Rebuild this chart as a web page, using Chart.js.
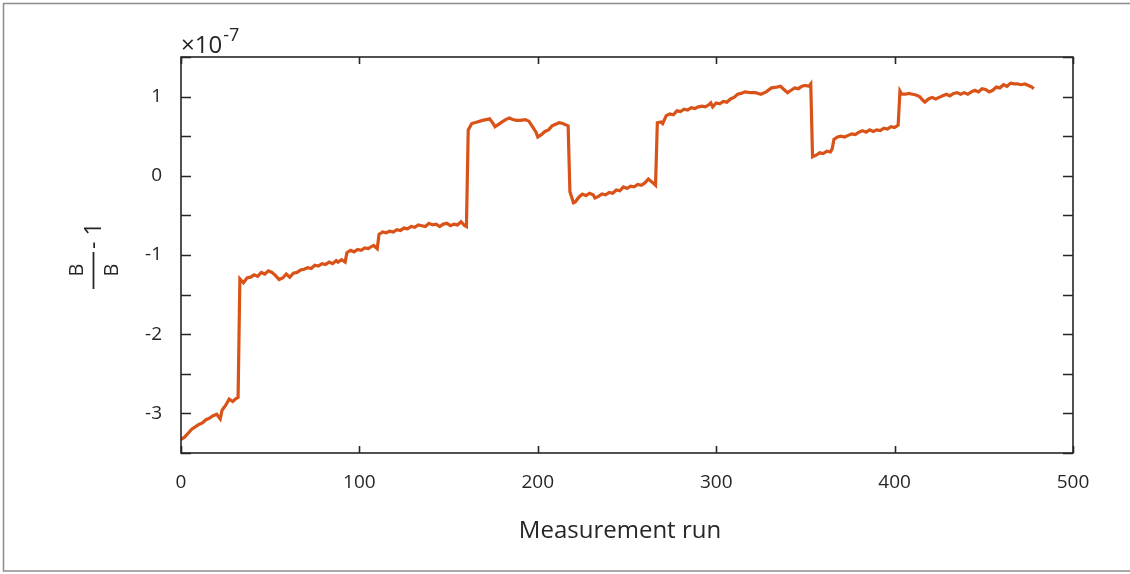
<!DOCTYPE html>
<html>
<head>
<meta charset="utf-8">
<script src="https://cdn.jsdelivr.net/npm/chart.js@4.4.1/dist/chart.umd.min.js"></script>
<style>
  html, body { margin: 0; padding: 0; background: #fff; }
  #wrap { width: 1130px; height: 574px; position: relative; }
</style>
</head>
<body>
<div id="wrap"><canvas id="c" width="1130" height="574"></canvas></div>
<script>
// measurement run index
const runs = [
  0, 2, 4, 6, 8, 10, 12, 14, 16, 18, 20, 22, 23, 25, 27, 29, 31, 32,
  33, 35, 37, 39, 41, 43, 45, 47, 49, 51, 53, 55, 57, 59, 61, 63, 65, 67, 69, 71, 73, 75, 77, 79, 81, 83, 85, 87, 88, 90, 92,
  93, 95, 97, 99, 101, 103, 105, 107, 108, 110,
  111, 113, 115, 117, 119, 121, 123, 125, 127, 129, 131, 133, 135, 137, 139, 141, 143, 145, 147, 149, 151, 153, 155, 157, 159, 160,
  161, 163, 166, 169, 171, 173, 175, 176, 178, 180, 182, 184, 186, 188, 190, 193, 195, 197, 199, 200, 202, 204, 206, 208, 210, 212, 214, 216, 217,
  218, 220, 221, 223, 225, 227, 229, 231, 232, 234, 236, 238, 240, 242, 244, 246, 248, 250, 252, 254, 256, 258, 260, 262, 264, 266,
  267, 269, 270, 272, 274, 276, 278, 280, 282, 284, 286, 288, 290, 292, 294, 296, 297, 298, 300, 302, 304, 306, 308, 310, 312, 314, 316, 319, 322, 325, 328, 331, 334, 336, 338, 340, 342, 344, 346, 348, 350, 352, 353,
  354, 356, 358, 360, 362, 364, 365, 366, 368, 370, 372, 374, 376, 378, 380, 382, 384, 386, 388, 390, 392, 394, 396, 398, 400, 402,
  403, 404, 406, 408, 410, 412, 414, 416, 417, 419, 421, 423, 425, 427, 429, 431, 433, 435, 437, 439, 441, 443, 445, 447, 449, 451, 453, 455, 457, 459, 461, 463, 465, 467, 469, 471, 473, 475, 477, 478
];

// B/B0 - 1, in units of 1e-7
const deviation = [
  -3.33, -3.30, -3.25, -3.20, -3.17, -3.14, -3.12, -3.08, -3.06, -3.03, -3.01, -3.07, -2.96, -2.90, -2.82, -2.85, -2.81, -2.80,
  -1.30, -1.35, -1.29, -1.28, -1.25, -1.27, -1.22, -1.24, -1.20, -1.22, -1.26, -1.31, -1.29, -1.24, -1.28, -1.23, -1.22, -1.19, -1.18, -1.16, -1.17, -1.13, -1.14, -1.11, -1.12, -1.09, -1.11, -1.07, -1.09, -1.06, -1.09,
  -0.97, -0.94, -0.96, -0.93, -0.94, -0.91, -0.92, -0.89, -0.88, -0.92,
  -0.74, -0.71, -0.72, -0.70, -0.71, -0.68, -0.69, -0.66, -0.67, -0.64, -0.65, -0.62, -0.63, -0.64, -0.60, -0.62, -0.61, -0.64, -0.61, -0.60, -0.63, -0.61, -0.62, -0.58, -0.63, -0.64,
  0.58, 0.66, 0.68, 0.70, 0.71, 0.72, 0.66, 0.62, 0.65, 0.68, 0.71, 0.73, 0.71, 0.70, 0.70, 0.71, 0.69, 0.62, 0.55, 0.49, 0.52, 0.56, 0.58, 0.63, 0.65, 0.67, 0.66, 0.64, 0.63,
  -0.20, -0.34, -0.33, -0.27, -0.23, -0.25, -0.22, -0.24, -0.28, -0.26, -0.23, -0.24, -0.21, -0.22, -0.18, -0.19, -0.14, -0.16, -0.13, -0.14, -0.11, -0.12, -0.09, -0.04, -0.08, -0.12,
  0.67, 0.68, 0.66, 0.76, 0.78, 0.77, 0.82, 0.81, 0.84, 0.83, 0.86, 0.85, 0.87, 0.88, 0.87, 0.90, 0.92, 0.87, 0.92, 0.91, 0.94, 0.93, 0.97, 0.99, 1.03, 1.04, 1.06, 1.05, 1.05, 1.03, 1.06, 1.11, 1.12, 1.13, 1.09, 1.05, 1.08, 1.11, 1.10, 1.13, 1.14, 1.13, 1.16,
  0.24, 0.26, 0.29, 0.28, 0.31, 0.30, 0.34, 0.46, 0.49, 0.50, 0.49, 0.51, 0.53, 0.52, 0.55, 0.57, 0.55, 0.58, 0.56, 0.58, 0.57, 0.60, 0.59, 0.62, 0.61, 0.64,
  1.07, 1.03, 1.03, 1.04, 1.03, 1.02, 1.00, 0.95, 0.93, 0.97, 0.99, 0.97, 0.99, 1.01, 1.03, 1.01, 1.04, 1.05, 1.03, 1.05, 1.03, 1.06, 1.08, 1.06, 1.10, 1.09, 1.06, 1.08, 1.12, 1.11, 1.15, 1.13, 1.17, 1.16, 1.16, 1.15, 1.16, 1.14, 1.12, 1.10
];

const xTicks = [0, 100, 200, 300, 400, 500];
const yTicks = [-3, -2, -1, 0, 1];
const yMinorStep = 0.5;

const FONT = '"Open Sans", "DejaVu Sans", sans-serif';
const AXIS = '#262626';

const points = runs.map((r, i) => ({ x: r, y: deviation[i] }));

// box around the axes, inward ticks on all four sides, labels that are not axis ticks
const decor = {
  id: 'decor',
  afterDraw(chart) {
    const ctx = chart.ctx;
    const xs = chart.scales.x, ys = chart.scales.y;
    const a = chart.chartArea;
    ctx.save();

    // outer frame
    ctx.strokeStyle = '#8c8c8c';
    ctx.lineWidth = 1.5;
    ctx.beginPath();
    ctx.moveTo(1135, 3.5); ctx.lineTo(3.5, 3.5); ctx.lineTo(3.5, 571); ctx.lineTo(1135, 571);
    ctx.stroke();

    ctx.strokeStyle = AXIS;
    ctx.lineWidth = 1.6;
    ctx.strokeRect(a.left, a.top, a.right - a.left, a.bottom - a.top);

    ctx.beginPath();
    xTicks.forEach(v => {
      const px = Math.round(xs.getPixelForValue(v)) + 0.5;
      ctx.moveTo(px, a.bottom); ctx.lineTo(px, a.bottom - 7);
      ctx.moveTo(px, a.top); ctx.lineTo(px, a.top + 7);
    });
    for (let v = ys.min; v <= ys.max + 1e-9; v += yMinorStep) {
      const py = Math.round(ys.getPixelForValue(v)) + 0.5;
      ctx.moveTo(a.left, py); ctx.lineTo(a.left + 10, py);
      ctx.moveTo(a.right, py); ctx.lineTo(a.right - 10, py);
    }
    ctx.stroke();

    ctx.fillStyle = AXIS;

    // x title
    ctx.textAlign = 'center';
    ctx.textBaseline = 'middle';
    ctx.font = '24px ' + FONT;
    ctx.fillText('Measurement run', 620, 531);

    // exponent
    ctx.textBaseline = 'alphabetic';
    ctx.textAlign = 'left';
    ctx.font = '24px ' + FONT;
    ctx.fillText('\u00d710', a.left, 53);
    const w = ctx.measureText('\u00d710').width;
    ctx.font = '18px ' + FONT;
    ctx.fillText('-7', a.left + w + 1, 41);

    // y title: B over B, minus one, rotated
    ctx.translate(92, 270);
    ctx.rotate(-Math.PI / 2);
    ctx.textAlign = 'center';
    ctx.textBaseline = 'middle';
    ctx.font = '20px ' + FONT;
    ctx.fillText('B', 0, -15);
    ctx.fillText('B', 0, 20);
    ctx.lineWidth = 1.8;
    ctx.beginPath();
    ctx.moveTo(-19, 1.5); ctx.lineTo(18, 1.5);
    ctx.stroke();
    ctx.font = '23px ' + FONT;
    ctx.textAlign = 'left';
    ctx.fillText('- 1', 21, 2);

    ctx.restore();
  }
};

new Chart(document.getElementById('c'), {
  type: 'line',
  data: {
    datasets: [{
      data: points,
      borderColor: '#D95319',
      borderWidth: 3.2,
      pointRadius: 0,
      tension: 0,
      fill: false
    }]
  },
  options: {
    responsive: false,
    animation: false,
    devicePixelRatio: 1,
    layout: { padding: { top: 57, right: 57, left: 0, bottom: 0 } },
    plugins: { legend: { display: false }, tooltip: { enabled: false } },
    scales: {
      x: {
        type: 'linear',
        min: 0, max: 500,
        grid: { display: false, drawTicks: false },
        border: { display: false },
        afterBuildTicks: s => { s.ticks = xTicks.map(v => ({ value: v })); },
        ticks: { color: AXIS, font: { family: FONT, size: 19 }, padding: 18, maxRotation: 0 },
        afterFit: s => { s.height = 121; }
      },
      y: {
        min: -3.5, max: 1.5,
        grid: { display: false, drawTicks: false },
        border: { display: false },
        afterBuildTicks: s => { s.ticks = yTicks.map(v => ({ value: v })); },
        ticks: { color: AXIS, font: { family: FONT, size: 19 }, padding: 19 },
        afterFit: s => { s.width = 181; }
      }
    }
  },
  plugins: [decor]
});
</script>
</body>
</html>
